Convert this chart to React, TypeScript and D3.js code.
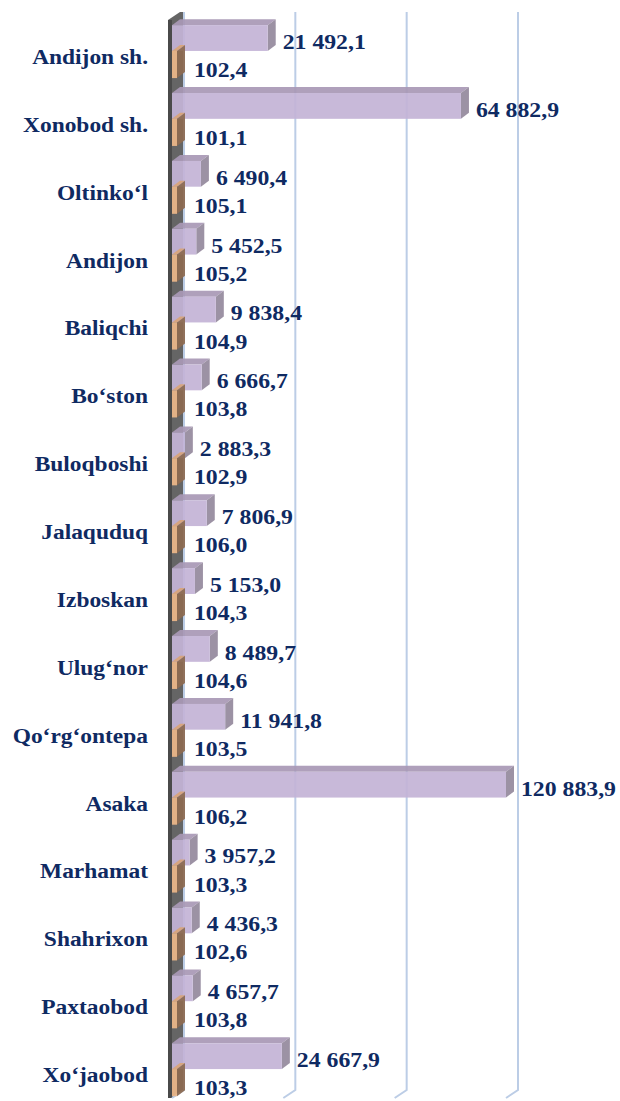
import React from "react";
import * as d3 from "d3";

const categories = [
  "Andijon sh.", "Xonobod sh.", "Oltinko‘l", "Andijon", "Baliqchi", "Bo‘ston",
  "Buloqboshi", "Jalaquduq", "Izboskan", "Ulug‘nor", "Qo‘rg‘ontepa", "Asaka",
  "Marhamat", "Shahrixon", "Paxtaobod", "Xo‘jaobod",
];
const volume = [
  21492.1, 64882.9, 6490.4, 5452.5, 9838.4, 6666.7, 2883.3, 7806.9,
  5153.0, 8489.7, 11941.8, 120883.9, 3957.2, 4436.3, 4657.7, 24667.9,
];
const growth = [
  102.4, 101.1, 105.1, 105.2, 104.9, 103.8, 102.9, 106.0,
  104.3, 104.6, 103.5, 106.2, 103.3, 102.6, 103.8, 103.3,
];
const ticks = [0, 25000, 50000, 75000];

const W = 620;
const H = 1101;
const DX = 12, DY = -8; // plot depth
const BX = 8, BY = -6; // bar depth
const top = 20, bottom = 1098;
const TEXT = "#0f2a62";
const FONT = "'Liberation Serif', 'Times New Roman', serif";

const fmt = d3.formatLocale({ decimal: ",", thousands: " ", grouping: [3], currency: ["", ""] }).format(",.1f");

// axis stops at 75 000, longer bars are cut at the edge
const x = d3.scaleLinear().domain([0, 75000]).range([172, 506]).clamp(true);
const y = d3.scaleBand().domain(categories).range([17, 1103]);

function bar3d(x0: number, x1: number, y0: number, y1: number, front: string, topC: string, side: string) {
  const topPts = [[x0, y0], [x0 + BX, y0 + BY], [x1 + BX, y0 + BY], [x1, y0]];
  const sidePts = [[x1, y0], [x1 + BX, y0 + BY], [x1 + BX, y1 + BY], [x1, y1]];
  const line = (p: number[][]) => p.map((d) => d.join(",")).join(" ");
  return (
    <g opacity={0.93}>
      <polygon points={line(topPts)} fill={topC} />
      <polygon points={line(sidePts)} fill={side} />
      <rect x={x0} y={y0} width={x1 - x0} height={y1 - y0} fill={front} />
    </g>
  );
}

export default function App() {
  const bw = y.bandwidth();
  return (
    <svg width={W} height={H} style={{ position: "absolute", left: 0, top: 0, background: "#fff", fontFamily: FONT, fontWeight: "bold" }}>
      {/* left wall */}
      <polygon points={`168,${top} ${168 + DX},${top + DY} ${172 + DX},${top + DY} ${172 + DX},${bottom + DY} 172,${bottom} 168,${bottom}`} fill="#656565" />
      <rect x={168} y={top} width={4} height={bottom - top} fill="#4a4a4a" />
      {/* grid lines */}
      {ticks.map((t) => (
        <polyline key={t}
          points={`${x(t) + DX},${top + DY} ${x(t) + DX},${bottom + DY} ${x(t)},${bottom}`}
          fill="none" stroke="#bccde6" strokeWidth={2} />
      ))}
      {categories.map((c, i) => {
        const b = y(c)!;
        const py0 = b + bw * 0.12, py1 = b + bw * 0.5;
        const oy0 = b + bw * 0.5, oy1 = b + bw * 0.9;
        const pEnd = x(volume[i]);
        const oEnd = Math.max(x(growth[i]), x(0) + 5);
        return (
          <g key={c}>
            {bar3d(x(0), pEnd, py0, py1, "#c4b4d7", "#a999b6", "#958a9e")}
            {bar3d(x(0), oEnd, oy0, oy1, "#ecb789", "#d9a57a", "#8d6b51")}
            <text transform={`translate(148,${b + bw * 0.5 + 13}) scale(1.065,1)`} textAnchor="end"
              fontSize={22} fill={TEXT}>{c}</text>
            <text transform={`translate(${pEnd + BX + 7},${py1 - 2}) scale(1.08,1)`}
              fontSize={22} fill={TEXT}>{fmt(volume[i])}</text>
            <text transform={`translate(194,${oy1 - 1}) scale(1.08,1)`}
              fontSize={22} fill={TEXT}>{fmt(growth[i])}</text>
          </g>
        );
      })}
    </svg>
  );
}
